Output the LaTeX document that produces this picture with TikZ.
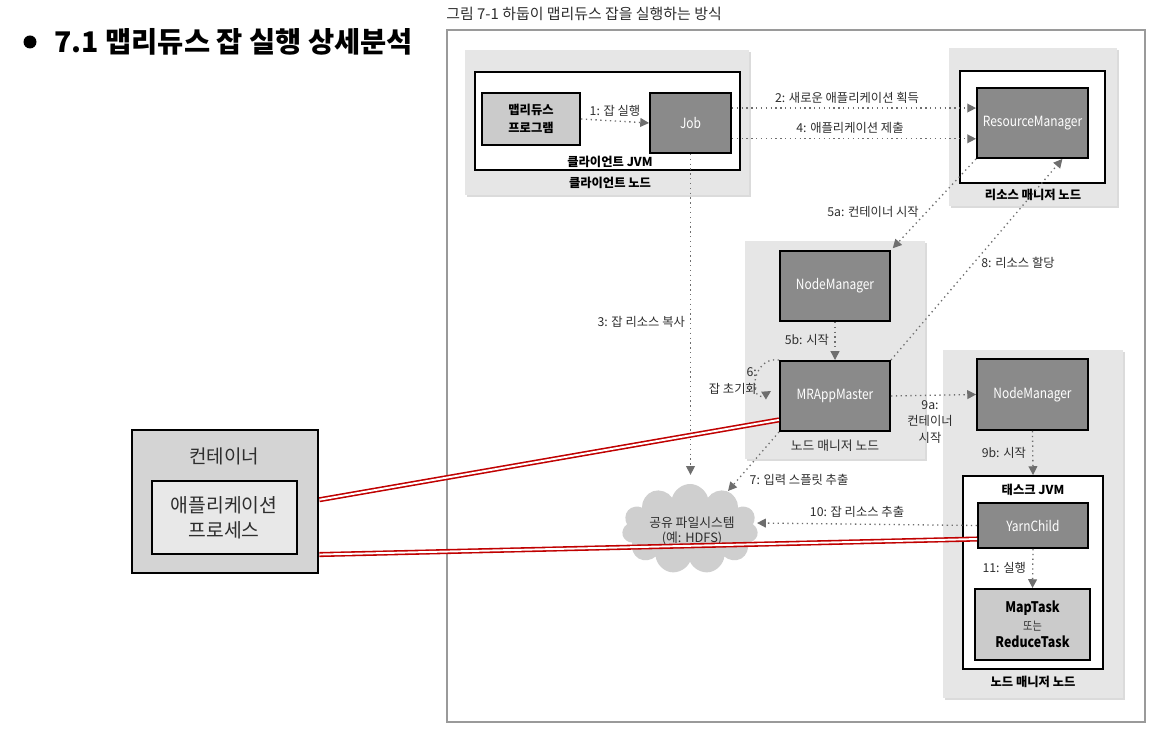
\documentclass[tikz,border=0pt]{standalone}
\usepackage{fontspec}
\setmainfont{Noto Sans CJK KR}
\newfontfamily\condf{Noto Sans CJK KR}[FakeStretch=0.85]
\usetikzlibrary{arrows.meta,shapes.symbols,shadows,fit,calc}
\newlength\pxu \setlength\pxu{0.02cm}
\definecolor{areabg}{HTML}{E6E6E6}
\definecolor{darkbox}{HTML}{8A8A8A}
\definecolor{lightbox}{HTML}{CBCBCB}
\definecolor{contfill}{HTML}{D4D4D4}
\definecolor{innerfill}{HTML}{E8E8E8}
\definecolor{cloudfill}{HTML}{CFCFCF}
\definecolor{txt}{HTML}{2E2E2E}
\definecolor{arrowc}{HTML}{6E6E6E}
\definecolor{redl}{HTML}{C00000}
\definecolor{framec}{HTML}{9A9A9A}
\tikzset{
  area/.style={inner sep=0, fill=areabg, draw=none,
    drop shadow={shadow xshift=1.2pt, shadow yshift=-1.2pt, fill=black!40, opacity=.35}},
  whitebox/.style={inner sep=0, fill=white, draw=black, line width=1.1pt},
  darkbox/.style={inner sep=0, fill=darkbox, draw=black, line width=1.1pt},
  boxtext/.style={text=white, font=\condf\fontsize{8}{9}\selectfont},
  lightbox/.style={inner sep=0, fill=lightbox, draw=black, line width=1.1pt},
  flow/.style={draw=arrowc, line width=0.75pt, dotted, -{Triangle[length=5pt,width=5pt]}},
  lbl/.style={text=txt, font=\fontsize{7}{9.5}\selectfont, inner sep=1pt},
  blbl/.style={text=black, font=\bfseries\fontsize{7}{8}\selectfont, inner sep=1pt},
  redpipe/.style={draw=redl, double=white, line width=0.9pt, double distance=1.1pt}
}
\begin{document}
\begin{tikzpicture}[x=0.02cm, y=-0.02cm]
\useasboundingbox (0,0) rectangle (1165,732);
\fill[white] (0,0) rectangle (1165,732);

% title
\node[circle, fill=black, inner sep=0, minimum size=13\pxu] (bullet) at (30,42) {};
\node[anchor=west, font=\bfseries\fontsize{16.2}{18}\selectfont, inner sep=0] (title) at (54,42)
  {7.1 맵리듀스 잡 실행 상세분석};

% caption and frame
\node[anchor=west, text=txt, font=\fontsize{8.5}{10}\selectfont, inner sep=0] (caption) at (446,14)
  {그림 7-1 하둡이 맵리듀스 잡을 실행하는 방식};
\node[inner sep=0, draw=framec, line width=0.8pt, fit={(447,30)(1145,722)}] (frame) {};

% client node
\node[area, fit={(465,50)(749,195)}] (cnode) {};
\node[whitebox, fit={(475,72)(740,170)}] (cjvm) {};
\node[lightbox, fit={(482,93)(580,145)}] (prog) {};
\node[blbl, align=center, font=\bfseries\fontsize{7}{10}\selectfont] (progt) at (prog) {맵리듀스\\프로그램};
\node[darkbox, fit={(650,93)(731,153)}] (job) {};
\node[boxtext] (jobt) at (job) {Job};
\node[blbl] (cjvmt) at (610,162) {클라이언트 JVM};
\node[blbl] (cnodet) at (610,183) {클라이언트 노드};

% resource manager node
\node[area, fit={(949,48)(1117,206)}] (rmnode) {};
\node[whitebox, fit={(960,71)(1105,183)}] (rmw) {};
\node[darkbox, fit={(977,88)(1088,158)}] (rm) {};
\node[boxtext] (rmt) at (rm) {ResourceManager};
\node[blbl] (rmnodet) at (1033,195) {리소스 매니저 노드};

% node manager node 1
\node[area, fit={(745,241)(925,459)}] (nm1node) {};
\node[darkbox, fit={(780,251)(890,321)}] (nm1) {};
\node[boxtext] (nm1t) at (nm1) {NodeManager};
\node[darkbox, fit={(780,361)(890,431)}] (mr) {};
\node[boxtext] (mrt) at (mr) {MRAppMaster};
\node[text=txt, font=\fontsize{7.3}{8}\selectfont] (nm1nodet) at (835,446) {노드 매니저 노드};

% node manager node 2
\node[area, fit={(943,350)(1123,698)}] (nm2node) {};
\node[darkbox, fit={(977,359)(1088,430)}] (nm2) {};
\node[boxtext] (nm2t) at (nm2) {NodeManager};
\node[whitebox, fit={(963,476)(1103,669)}] (tjvm) {};
\node[blbl] (tjvmt) at (1033,490) {태스크 JVM};
\node[darkbox, fit={(978,503)(1088,548)}] (yc) {};
\node[boxtext] (yct) at (yc) {YarnChild};
\node[lightbox, fit={(975,589)(1090,660)}] (task) {};
\node[align=center, font=\condf\fontsize{8.3}{10}\selectfont] (taskt) at (task)
  {\textbf{MapTask}\\{\color{txt}\fontsize{6.8}{8}\selectfont 또는}\\\textbf{ReduceTask}};
\node[blbl] (nm2nodet) at (1033,682) {노드 매니저 노드};

% shared file system
\node[cloud, cloud puffs=11, aspect=1.5, fill=cloudfill, draw=none, inner sep=0,
  minimum width=136\pxu, minimum height=90\pxu] (cloud) at (690,529) {};
\node[lbl, align=center, font=\fontsize{7.3}{9}\selectfont] (cloudt) at (692,531) {공유 파일시스템\\(예: HDFS)};

% container (left)
\node[inner sep=0, fill=contfill, draw=black, line width=1.6pt, fit={(132,430)(318,573)}] (cont) {};
\node[text=txt, font=\fontsize{10.8}{12}\selectfont] (contt) at (224,456) {컨테이너};
\node[inner sep=0, fill=innerfill, draw=black, line width=1.4pt, fit={(152,481)(297,554)}] (app) {};
\node[text=txt, align=center, font=\fontsize{11}{14.5}\selectfont] (appt) at (224,518) {애플리케이션\\프로세스};

% flows
\draw[flow] (prog.east) -- (job.west) node[lbl, midway, above=1pt] (l1) {1: 잡 실행};
\draw[flow] ([yshift=8.5pt]job.east) -- ([yshift=8.5pt]rm.west);
\node[lbl] (l2) at (847,98) {2: 새로운 애플리케이션 획득};
\draw[flow] ([yshift=-9pt]job.east) -- ([yshift=-9pt]rm.west);
\node[lbl] (l4) at (850,128) {4: 애플리케이션 제출};
\draw[flow] (job.south) -- ([yshift=5pt]job.south |- cloud.north);
\node[lbl, anchor=east] (l3) at (687,322) {3: 잡 리소스 복사};
\draw[flow] (rm.south west) -- ([xshift=1pt,yshift=1pt]nm1.north east);
\node[lbl] (l5a) at (873,212) {5a: 컨테이너 시작};
\draw[flow] (nm1.south) -- (mr.north);
\node[lbl, anchor=east] (l5b) at (831,340) {5b: 시작};
\coordinate (c6) at (771,391);
\draw[flow] (mr.north west) .. controls (750,356) and (750,404) .. (c6);
\node[lbl, align=right, anchor=east] (l6) at (759,381) {6:\\잡 초기화};
\draw[flow] (mr.south west) -- (728,491);
\node[lbl] (l7) at (799,480) {7: 입력 스플릿 추출};
\draw[flow] (mr.north east) -- ([xshift=17pt]rm.south);
\node[lbl] (l8) at (1018,263) {8: 리소스 할당};
\draw[flow] (mr.east) -- (nm2.west);
\node[lbl, align=center] (l9a) at (930,422) {9a:\\컨테이너\\시작};
\draw[flow] (nm2.south) -- (tjvm.north);
\node[lbl, anchor=east] (l9b) at (1028,453) {9b: 시작};
\draw[flow] (yc.west) -- (757,523);
\node[lbl] (l10) at (857,512) {10: 잡 리소스 추출};
\draw[flow] (yc.south) -- (task.north);
\node[lbl, anchor=east] (l11) at (1028,568) {11: 실행};

% red connections
\draw[redpipe] ([yshift=1pt]cont.east) -- ([yshift=-13.6pt]mr.west);
\draw[redpipe] ([yshift=11.3pt]cont.south east) -- ([yshift=-7.7pt]yc.west);
\end{tikzpicture}
\end{document}
